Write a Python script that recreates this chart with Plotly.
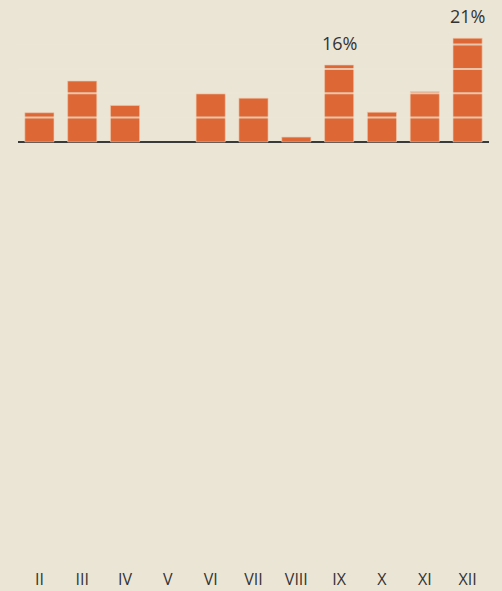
import plotly.graph_objects as go

categories = ["II", "III", "IV", "V", "VI", "VII", "VIII", "IX", "X", "XI", "XII"]
values = [6.0, 12.5, 7.5, 0.0, 10.0, 9.0, 1.0, 15.8, 6.1, 10.3, 21.3]
label_text = {"IX": "16%", "XII": "21%"}
grid_values = [5, 10, 15, 20]

BG = "#EBE5D6"
BAR = "#DD6836"

fig = go.Figure()
fig.add_trace(go.Bar(
    x=categories, y=values,
    marker=dict(color=BAR,
                line=dict(color="rgba(240,200,170,0.6)",
                          width=[1 if v > 0 else 0 for v in values])),
    hoverinfo="skip",
))

for g in grid_values:
    fig.add_hline(y=g, line=dict(color="rgba(235,229,214,0.75)", width=2), layer="above")

for cat, txt in label_text.items():
    v = values[categories.index(cat)]
    fig.add_annotation(x=cat, y=v, text=txt, showarrow=False, yanchor="bottom",
                       yshift=8, font=dict(size=18, color="#333333", family="Open Sans"))

fig.update_layout(
    width=502, height=591,
    margin=dict(l=18, r=13, t=10, b=23),
    paper_bgcolor=BG, plot_bgcolor=BG,
    bargap=0.32,
    showlegend=False,
    font=dict(family="Open Sans", color="#333333"),
)
fig.update_xaxes(
    tickfont=dict(size=16, color="#333333"),
    showgrid=False, showline=False, ticks="", automargin=False,
)
fig.update_yaxes(
    range=[-87.5, 27.1],
    showticklabels=False,
    showgrid=False, automargin=False,
    zeroline=True, zerolinecolor="#3a3a3a", zerolinewidth=2,
)

fig.write_html("out.html", config={"displayModeBar": False},
               post_script="document.body.style.margin='0';document.body.style.background='#EBE5D6';")
